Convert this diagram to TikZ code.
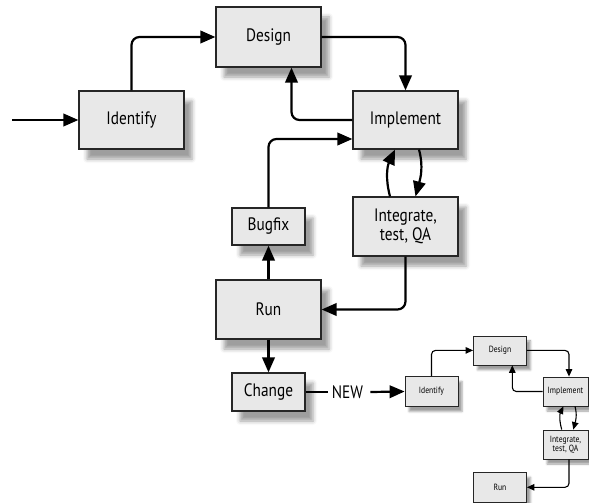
\documentclass[tikz,border=0pt]{standalone}
\usepackage{fontspec}
\setmainfont{PT Sans}[FakeStretch=0.85]
\usetikzlibrary{arrows.meta,shadows.blur,calc}
\begin{document}
\begin{tikzpicture}[x=1pt,y=1pt,
  box/.style={draw=black!85, line width=1.2pt, fill=gray!18, align=center, inner sep=0pt,
    font=\fontsize{18}{19}\selectfont,
    blur shadow={shadow xshift=8pt, shadow yshift=-10pt, shadow blur radius=4pt, shadow opacity=38}},
  sbox/.style={draw=black!85, line width=0.8pt, fill=gray!18, align=center, inner sep=0pt,
    font=\fontsize{9}{9.5}\selectfont,
    blur shadow={shadow xshift=4pt, shadow yshift=-5pt, shadow blur radius=2pt, shadow opacity=38}},
  arr/.style={line width=2.2pt, -{Triangle[length=15pt,width=12.5pt]}, rounded corners=8pt},
  ln/.style={line width=2.2pt},
  sarr/.style={line width=1.1pt, -{Triangle[length=7.5pt,width=6.5pt]}, rounded corners=4pt},
  lbl/.style={font=\fontsize{18}{19}\selectfont, inner sep=0pt}
]
\useasboundingbox (0,0) rectangle (589,-503);
% main diagram
\node[box, minimum width=105pt, minimum height=58pt] (identify) at (131.5,-120) {Identify};
\node[box, minimum width=105pt, minimum height=60pt] (design) at (268.5,-37) {Design};
\node[box, minimum width=105pt, minimum height=58pt] (implement) at (405.5,-120) {Implement};
\node[box, minimum width=105pt, minimum height=59pt] (integrate) at (405.5,-226.5) {Integrate,\\test, QA};
\node[box, minimum width=73pt, minimum height=37pt] (bugfix) at (268.5,-226.5) {Bugfix};
\node[box, minimum width=105pt, minimum height=59pt] (run) at (268.5,-309.5) {Run};
\node[box, minimum width=73pt, minimum height=38pt] (change) at (268.5,-392) {Change};
\coordinate (start) at (12,-120);
\node[lbl] (new) at (347.5,-392) {NEW};

\draw[arr] (start) -- (identify.west);
\draw[arr] (identify.north) |- (design.west);
\draw[arr] (design.east) -| (implement.north);
\draw[arr] (implement.west) -| ([xshift=23pt]design.south);
\draw[arr] (bugfix.north) |- ([yshift=-19pt]implement.west);
\draw[arr] ([xshift=-15.5pt]integrate.north) to[out=105,in=-115] ([xshift=-10.5pt]implement.south);
\draw[arr] ([xshift=13.5pt]implement.south) to[out=-75,in=75] ([xshift=10pt]integrate.north);
\draw[arr] (integrate.south) |- (run.east);
\draw[arr] (run.north) -- (bugfix.south);
\draw[arr] (run.south) -- (change.north);
\draw[ln] (change.east) -- ([xshift=-4pt]new.west);

% small diagram
\node[sbox, minimum width=53pt, minimum height=30pt] (sidentify) at (431.5,-391.5) {Identify};
\node[sbox, minimum width=53pt, minimum height=29pt] (sdesign) at (500,-350.4) {Design};
\node[sbox, minimum width=45pt, minimum height=29pt] (simplement) at (565.5,-391.5) {Implement};
\node[sbox, minimum width=45pt, minimum height=29pt] (sintegrate) at (565.5,-444.5) {Integrate,\\test, QA};
\node[sbox, minimum width=53pt, minimum height=30pt] (srun) at (500,-487.3) {Run};

\draw[arr] ([xshift=7pt]new.east) -- (sidentify.west);
\draw[sarr] (sidentify.north) |- (sdesign.west);
\draw[sarr] (sdesign.east) -| ([xshift=3.5pt]simplement.north);
\draw[sarr] (simplement.west) -| ([xshift=12.3pt]sdesign.south);
\draw[sarr] ([xshift=-3.8pt]sintegrate.north) to[out=105,in=-115] ([xshift=-2.2pt]simplement.south);
\draw[sarr] ([xshift=9.5pt]simplement.south) to[out=-75,in=75] ([xshift=7.8pt]sintegrate.north);
\draw[sarr] ([xshift=3.5pt]sintegrate.south) |- (srun.east);
\end{tikzpicture}
\end{document}
